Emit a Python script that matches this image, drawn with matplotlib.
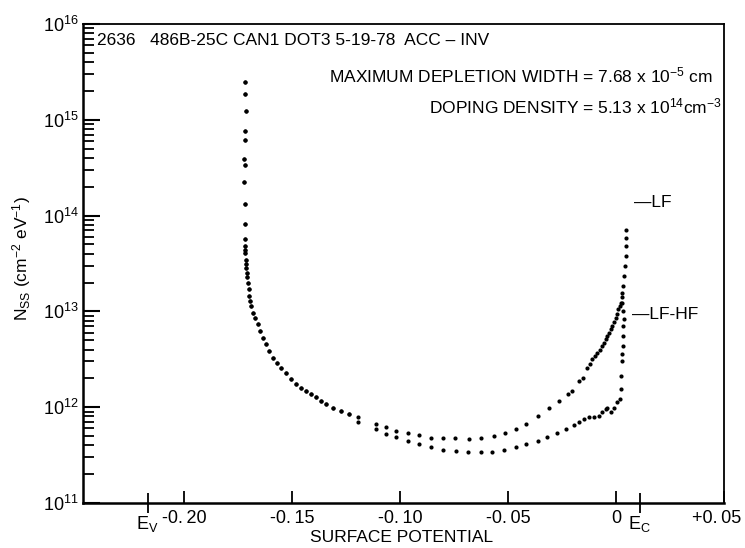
import matplotlib as mpl
import matplotlib.pyplot as plt
import matplotlib.transforms as mtransforms
import numpy as np
from matplotlib.ticker import FixedLocator, NullFormatter

FONT = ["Liberation Sans Narrow", "Liberation Sans", "DejaVu Sans"]
mpl.rcParams.update(
    {
        "font.family": FONT,
        "font.size": 12.5,
        "mathtext.fontset": "custom",
        "mathtext.rm": "Liberation Sans Narrow",
        "mathtext.it": "Liberation Sans Narrow",
        "mathtext.bf": "Liberation Sans Narrow",
    }
)

# shared left branch (LF and LF-HF overlap here), surface potential in V
common_x = [-0.1719, -0.1718, -0.1714, -0.1718, -0.1719, -0.1724, -0.1721, -0.1724, -0.1721,
            -0.1721, -0.1721, -0.1718, -0.1718, -0.1718, -0.1716, -0.1714, -0.1713, -0.1712,
            -0.1710, -0.1707, -0.1702, -0.1699, -0.1694, -0.1691, -0.1684, -0.1671, -0.1661,
            -0.1650, -0.1638, -0.1622, -0.1606, -0.1591, -0.1573, -0.1552, -0.1529, -0.1506,
            -0.1483, -0.1460, -0.1437, -0.1413, -0.1390, -0.1367, -0.1344, -0.1313, -0.1275,
            -0.1236]
common_y = [2.47e15, 1.84e15, 1.24e15, 7.56e14, 6.19e14, 3.90e14, 3.38e14, 2.26e14, 1.32e14,
            8.12e13, 5.72e13, 4.87e13, 4.42e13, 4.09e13, 3.48e13, 3.09e13, 2.81e13, 2.53e13,
            2.26e13, 1.99e13, 1.70e13, 1.44e13, 1.27e13, 1.14e13, 9.69e12, 8.60e12, 7.32e12,
            6.24e12, 5.32e12, 4.53e12, 3.86e12, 3.30e12, 2.87e12, 2.59e12, 2.26e12, 1.96e12,
            1.74e12, 1.60e12, 1.48e12, 1.37e12, 1.28e12, 1.16e12, 1.07e12, 9.93e11, 9.15e11,
            8.45e11]

# LF (upper) branch
lf_x = [-0.1198, -0.1113, -0.1066, -0.1020, -0.0966, -0.0915, -0.0858, -0.0804, -0.0745,
        -0.0681, -0.0626, -0.0565, -0.0514, -0.0464, -0.0418, -0.0364, -0.0310, -0.0264,
        -0.0225, -0.0202, -0.0171, -0.0153, -0.0133, -0.0120, -0.0110, -0.0098, -0.0087,
        -0.0075, -0.0063, -0.0055, -0.0048, -0.0040, -0.0032, -0.0025, -0.0017, -0.0009,
        -0.0001, 0.0005, 0.0011, 0.0017, 0.0022, 0.0026, 0.0029, 0.0034, 0.0038, 0.0042,
        0.0045, 0.0048, 0.0048, 0.0048]
lf_y = [7.82e11, 6.65e11, 6.15e11, 5.66e11, 5.36e11, 5.11e11, 4.72e11, 4.72e11, 4.72e11,
        4.64e11, 4.75e11, 5.02e11, 5.36e11, 5.90e11, 6.61e11, 8.00e11, 9.77e11, 1.15e12,
        1.37e12, 1.48e12, 1.88e12, 2.04e12, 2.59e12, 2.85e12, 3.16e12, 3.40e12, 3.71e12,
        4.00e12, 4.35e12, 4.70e12, 5.11e12, 5.50e12, 6.00e12, 6.50e12, 7.03e12, 7.80e12,
        8.60e12, 9.50e12, 1.05e13, 1.14e13, 1.23e13, 1.40e13, 1.57e13, 1.84e13, 2.33e13,
        2.96e13, 3.77e13, 4.79e13, 5.86e13, 7.03e13]

# LF-HF (lower) branch
lfhf_x = [-0.1198, -0.1113, -0.1066, -0.1020, -0.0966, -0.0915, -0.0858, -0.0804, -0.0742,
          -0.0684, -0.0626, -0.0573, -0.0519, -0.0464, -0.0418, -0.0364, -0.0318, -0.0272,
          -0.0233, -0.0194, -0.0171, -0.0148, -0.0125, -0.0102, -0.0079, -0.0063, -0.0048,
          -0.0040, -0.0025, -0.0009, 0.0006, 0.0017, 0.0022, 0.0022, 0.0026, 0.0029, 0.0032,
          0.0032, 0.0032, 0.0037, 0.0032, 0.0029]
lfhf_y = [6.98e11, 5.90e11, 5.23e11, 4.93e11, 4.46e11, 4.12e11, 3.80e11, 3.59e11, 3.51e11,
          3.38e11, 3.38e11, 3.38e11, 3.59e11, 3.80e11, 4.12e11, 4.40e11, 4.91e11, 5.36e11,
          5.90e11, 6.55e11, 6.93e11, 7.50e11, 7.82e11, 7.82e11, 8.11e11, 8.81e11, 9.53e11,
          9.93e11, 8.81e11, 9.93e11, 1.12e12, 1.21e12, 1.54e12, 2.12e12, 3.03e12, 3.56e12,
          4.35e12, 5.53e12, 7.03e12, 8.26e12, 1.01e13, 1.23e13]

x_ticks = [-0.20, -0.15, -0.10, -0.05, 0.0, 0.05]
x_ticklabels = ["-0.\u200920", "-0.\u200915", "-0.\u200910", "-0.\u200905", "0", "+0.\u200905"]
band_edges = [-0.217, 0.011]
band_labels = ["$\\mathregular{E_V}$", "$\\mathregular{E_C}$"]
y_ticks = [1e11, 1e12, 1e13, 1e14, 1e15, 1e16]
y_ticklabels = ["$\\mathregular{10^{%d}}$" % e for e in range(11, 17)]


def main():
    fig = plt.figure(figsize=(7.45, 5.48), dpi=100)
    ax = fig.add_axes([0.1114, 0.0821, 0.8604, 0.8741])

    ax.plot(np.r_[common_x, lf_x], np.r_[common_y, lf_y], "o", ms=3.0, color="black", mew=0)
    ax.plot(np.r_[common_x, lfhf_x], np.r_[common_y, lfhf_y], "o", ms=3.0, color="black", mew=0)

    ax.set_yscale("log")
    ax.set_xlim(-0.247, 0.05)
    ax.set_ylim(1e11, 1e16)

    ax.set_xticks(x_ticks)
    ax.set_xticklabels(x_ticklabels)
    ax.xaxis.set_minor_locator(FixedLocator(band_edges))
    ax.set_xticklabels(band_labels, minor=True)
    ax.tick_params(axis="x", which="major", direction="in", length=9, width=1.3, pad=5, labelsize=13)
    ax.tick_params(axis="x", which="minor", direction="inout", length=14, width=1.3, pad=1, labelsize=13)

    # last label sits a little left of its tick, as in the original
    shift = mtransforms.ScaledTranslation(-5 / 72, 0, fig.dpi_scale_trans)
    last = ax.get_xticklabels()[-1]
    last.set_transform(last.get_transform() + shift)

    ax.set_yticks(y_ticks)
    ax.set_yticklabels(y_ticklabels)
    minors = [m * 10.0 ** e for e in range(11, 16) for m in range(2, 10)]
    ax.yaxis.set_minor_locator(FixedLocator(minors))
    ax.yaxis.set_minor_formatter(NullFormatter())
    ax.tick_params(axis="y", which="major", direction="in", length=12, width=1.5, pad=3, labelsize=13)
    ax.tick_params(axis="y", which="minor", direction="in", length=8, width=1.3)
    ax.tick_params(right=False, top=False, which="both")

    for side in ["left", "bottom"]:
        ax.spines[side].set_linewidth(1.8)
    for side in ["top", "right"]:
        ax.spines[side].set_linewidth(1.3)

    ax.text(0.022, 0.965, "2636   486B-25C CAN1 DOT3 5-19-78  ACC \u2013 INV",
            transform=ax.transAxes, ha="left", va="center", fontsize=12.5)
    ax.text(0.983, 0.893, "MAXIMUM DEPLETION WIDTH = 7.68 x $\\mathregular{10^{-5}}$ cm",
            transform=ax.transAxes, ha="right", va="center", fontsize=12.5)
    ax.text(0.997, 0.827, "DOPING DENSITY = 5.13 x $\\mathregular{10^{14}cm^{-3}}$",
            transform=ax.transAxes, ha="right", va="center", fontsize=12.5)

    ax.text(0.0083, 1.36e14, "\u2014LF", ha="left", va="center", fontsize=12.5)
    ax.text(0.0074, 9.3e12, "\u2014LF-HF", ha="left", va="center", fontsize=12.5)

    fig.text(22 / 745, 1 - 259 / 548, "$\\mathregular{N_{SS}}$ (cm$\\mathregular{^{-2}}$ eV$\\mathregular{^{-1}}$)",
             rotation=90, ha="center", va="center", fontsize=12.5)
    fig.text(402 / 745, 1 - 538 / 548, "SURFACE POTENTIAL", ha="center", va="center", fontsize=12.5)

    fig.savefig("out.png", dpi=100)


if __name__ == "__main__":
    main()
